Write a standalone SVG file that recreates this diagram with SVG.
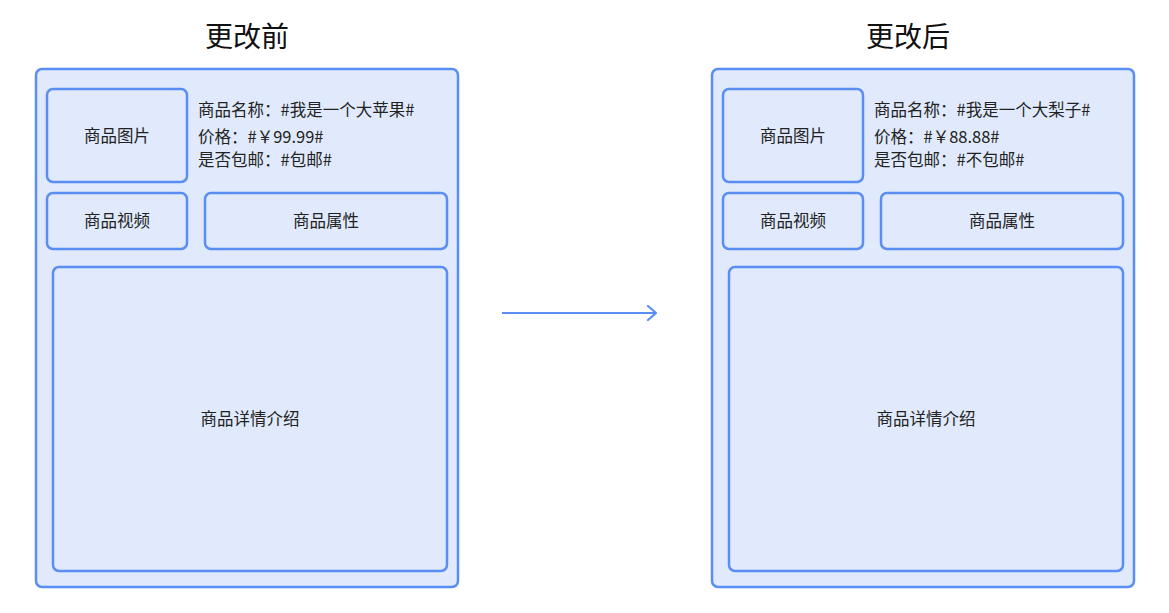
<svg xmlns="http://www.w3.org/2000/svg" width="1169" height="613" viewBox="0 0 1169 613">
<style>
.box{fill:#e0eafc;stroke:#5a8ef5;stroke-width:2.5}
.t{font-family:"Noto Sans CJK SC","Noto Sans",sans-serif;font-size:16.5px;fill:#222}
.c{text-anchor:middle}
.h{font-family:"Noto Sans CJK SC","Noto Sans",sans-serif;font-size:28px;fill:#111;text-anchor:middle}
</style>
<defs>
<marker id="ah" viewBox="0 0 12 16" refX="10" refY="8" markerWidth="12" markerHeight="16" markerUnits="userSpaceOnUse" orient="auto">
<path d="M2,1 L10,8 L2,15" fill="none" stroke="#5a8ef5" stroke-width="2.2" stroke-linecap="round" stroke-linejoin="round"/>
</marker>
</defs>
<rect width="1169" height="613" fill="#fff"/>
<text class="h" x="247" y="47">更改前</text>
<text class="h" x="908" y="47">更改后</text>
<g id="before">
<rect class="box" x="36" y="69" width="422" height="518" rx="6"/>
<g id="b-img"><rect class="box" x="47" y="89" width="140" height="93" rx="6"/><text class="t c" x="117" y="142">商品图片</text></g>
<g id="b-info"><text class="t" x="198" y="116">商品名称：#我是一个大苹果#</text><text class="t" x="198" y="143">价格：#￥99.99#</text><text class="t" x="198" y="166">是否包邮：#包邮#</text></g>
<g id="b-video"><rect class="box" x="47" y="193" width="140" height="56" rx="6"/><text class="t c" x="117" y="227">商品视频</text></g>
<g id="b-attr"><rect class="box" x="205" y="193" width="242" height="56" rx="6"/><text class="t c" x="326" y="227">商品属性</text></g>
<g id="b-detail"><rect class="box" x="53" y="267" width="394" height="304" rx="6"/><text class="t c" x="250" y="425">商品详情介绍</text></g>
</g>
<g id="after">
<rect class="box" x="712" y="69" width="422" height="518" rx="6"/>
<g id="a-img"><rect class="box" x="723" y="89" width="140" height="93" rx="6"/><text class="t c" x="793" y="142">商品图片</text></g>
<g id="a-info"><text class="t" x="874" y="116">商品名称：#我是一个大梨子#</text><text class="t" x="874" y="143">价格：#￥88.88#</text><text class="t" x="874" y="166">是否包邮：#不包邮#</text></g>
<g id="a-video"><rect class="box" x="723" y="193" width="140" height="56" rx="6"/><text class="t c" x="793" y="227">商品视频</text></g>
<g id="a-attr"><rect class="box" x="881" y="193" width="242" height="56" rx="6"/><text class="t c" x="1002" y="227">商品属性</text></g>
<g id="a-detail"><rect class="box" x="729" y="267" width="394" height="304" rx="6"/><text class="t c" x="926" y="425">商品详情介绍</text></g>
</g>
<g id="connectors">
<line x1="502" y1="313" x2="656" y2="313" stroke="#5a8ef5" stroke-width="2.2" marker-end="url(#ah)"/>
</g>
</svg>
